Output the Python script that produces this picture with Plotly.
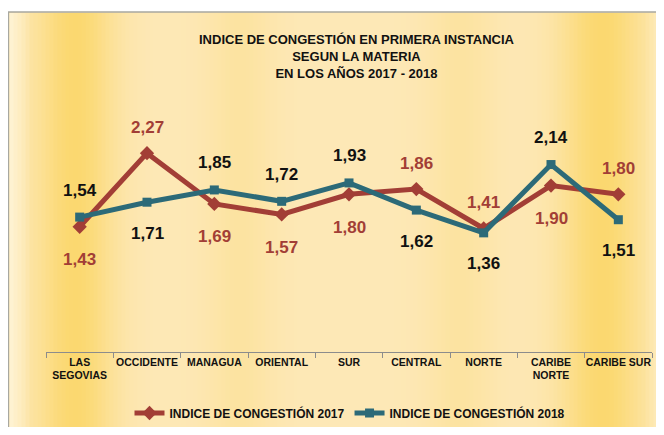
import math
import plotly.graph_objects as go

categories = ["LAS<br>SEGOVIAS", "OCCIDENTE", "MANAGUA", "ORIENTAL", "SUR",
              "CENTRAL", "NORTE", "CARIBE<br>NORTE", "CARIBE SUR"]
idx_2017 = [1.43, 2.27, 1.69, 1.57, 1.80, 1.86, 1.41, 1.90, 1.80]
idx_2018 = [1.54, 1.71, 1.85, 1.72, 1.93, 1.62, 1.36, 2.14, 1.51]
# label placement: +1 above the point, -1 below
pos_2017 = [-1, 1, -1, -1, -1, 1, 1, -1, 1]
pos_2018 = [1, -1, 1, 1, 1, -1, -1, 1, -1]

OFF = 8  # page body margin offset
W, H = 664 - 2 * OFF, 435 - 2 * OFF
L, R, T, B = 38, 4, 125, 75
PW, PH = W - L - R, H - T - B

def px(p):
    return (p - OFF - L) / PW

def py(p):
    return (H - B - (p - OFF)) / PH

FONT = "Liberation Sans, Arial, sans-serif"
RED = "#A23E36"
TEAL = "#2C6A78"

fig = go.Figure()
fig.add_trace(go.Scatter(
    x=categories, y=idx_2017, mode="lines+markers",
    name="<b>INDICE DE CONGESTIÓN 2017</b>",
    line=dict(color=RED, width=5),
    marker=dict(symbol="diamond", size=11, color=RED),
))
fig.add_trace(go.Scatter(
    x=categories, y=idx_2018, mode="lines+markers",
    name="<b>INDICE DE CONGESTIÓN 2018</b>",
    line=dict(color=TEAL, width=5),
    marker=dict(symbol="square", size=9, color=TEAL),
))

def fmt(v):
    return f"<b>{v:.2f}</b>".replace(".", ",")

annotations = []
for c, v, p in zip(categories, idx_2017, pos_2017):
    annotations.append(dict(x=c, y=v, text=fmt(v), showarrow=False,
                            yshift=26 if p > 0 else -33,
                            font=dict(family=FONT, size=17, color=RED)))
for c, v, p in zip(categories, idx_2018, pos_2018):
    annotations.append(dict(x=c, y=v, text=fmt(v), showarrow=False,
                            yshift=27 if p > 0 else -31,
                            font=dict(family=FONT, size=17, color="#111111")))

annotations.append(dict(
    xref="paper", yref="paper", x=px(357), y=py(56),
    text="<b>INDICE DE CONGESTIÓN EN PRIMERA INSTANCIA<br>SEGUN LA MATERIA<br>EN LOS AÑOS 2017 - 2018</b>",
    showarrow=False, xanchor="center", yanchor="middle",
    font=dict(family=FONT, size=13, color="#111111"),
))

shapes = []
# chart box border
shapes.append(dict(type="rect", xref="paper", yref="paper", layer="below",
                   x0=px(8.5), x1=px(700), y0=py(460), y1=py(12),
                   fillcolor="#FDE7B4", line=dict(color="#A8A8A0", width=1.5)))

# smooth golden vertical bands, drawn as thin slices
cream = (253, 232, 182)
gold = (251, 216, 112)
light = (255, 246, 222)
bands = [(75, 28, 1.0), (240, 25, 0.3), (460, 25, 0.3), (602, 30, 1.0)]
step = 4
x = 9.5
while x < 664:
    cx = x + step / 2
    g = sum(a * math.exp(-((cx - c) ** 2) / (2 * s * s)) for c, s, a in bands)
    g = min(g, 1.0)
    col = [cream[i] + (gold[i] - cream[i]) * g for i in range(3)]
    lw = max(0.0, 1 - (cx - 9) / 22) * 0.8 + max(0.0, (cx - 645) / 20) * 0.5
    lw = min(lw, 1.0)
    col = [col[i] + (light[i] - col[i]) * lw for i in range(3)]
    shapes.append(dict(type="rect", xref="paper", yref="paper", layer="below",
                       x0=px(x), x1=px(x + step + 0.5), y0=py(450), y1=py(13),
                       fillcolor="rgb(%d,%d,%d)" % tuple(int(round(c)) for c in col),
                       line=dict(width=0)))
    x += step

fig.update_layout(
    width=W, height=H,
    margin=dict(l=L, r=R, t=T, b=B, autoexpand=False),
    paper_bgcolor="white",
    plot_bgcolor="rgba(0,0,0,0)",
    showlegend=True,
    legend=dict(orientation="h", x=px(350), y=py(413), xanchor="center", yanchor="middle",
                bgcolor="rgba(0,0,0,0)",
                font=dict(family=FONT, size=12, color="#111111"),
                itemwidth=30, tracegroupgap=0),
    annotations=annotations,
    shapes=shapes,
    xaxis=dict(
        type="category", range=[-0.5, 8.5], automargin=False,
        showline=True, linecolor="#8C8C8C", linewidth=1,
        ticks="outside", tickson="boundaries", ticklen=5, tickcolor="#8C8C8C",
        showgrid=False, zeroline=False, tickangle=0,
        tickfont=dict(family=FONT, size=10.5, color="#111111"),
        tickprefix="<b>", ticksuffix="</b>",
    ),
    yaxis=dict(range=[0, 2.5], visible=False, showgrid=False, zeroline=False,
               automargin=False),
)

fig.write_html("out.html")
